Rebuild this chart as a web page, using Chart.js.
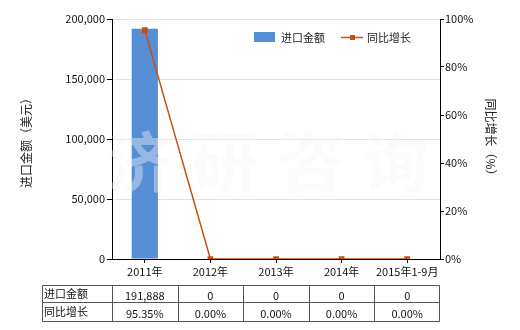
<!DOCTYPE html>
<html><head><meta charset="utf-8">
<script src="https://cdn.jsdelivr.net/npm/chart.js@4/dist/chart.umd.min.js"></script>
<style>html,body{margin:0;padding:0;background:#fff;}canvas{display:block;}</style>
</head><body>
<canvas id="c" width="520" height="330"></canvas>
<script>
const categories = ['2011年','2012年','2013年','2014年','2015年1-9月'];
const importValues = [191888, 0, 0, 0, 0];
const growthValues = [95.35, 0, 0, 0, 0];
const importLabels = ['191,888','0','0','0','0'];
const growthLabels = ['95.35%','0.00%','0.00%','0.00%','0.00%'];
const seriesNames = ['进口金额','同比增长'];
const leftTitle = '进口金额（美元）';
const rightTitle = '同比增长（%）';
const watermark = ['济','研','咨','询'];

const FONT = '"Noto Sans CJK SC", "Noto Sans", sans-serif';
const BAR = '#558ed5';
const LINE = '#c5500f';

const extras = {
  id: 'extras',
  afterDatasetDraw(chart, args) {
    if (args.index !== 0) return;
    const ctx = chart.ctx, a = chart.chartArea;
    ctx.save();
    ctx.fillStyle = 'rgba(246,246,246,0.4)';
    ctx.font = 'bold 66px ' + FONT;
    ctx.textAlign = 'center'; ctx.textBaseline = 'middle';
    const w = a.right - a.left;
    watermark.forEach((ch, i) => {
      ctx.fillText(ch, a.left + w * (0.06 + i * 0.26) + 8, 162);
    });
    ctx.restore();
  },
  afterDraw(chart) {
    const ctx = chart.ctx, x = chart.scales.x, a = chart.chartArea;
    ctx.save();
    // legend
    ctx.font = '11px ' + FONT;
    ctx.textBaseline = 'middle'; ctx.textAlign = 'left';
    ctx.fillStyle = BAR; ctx.fillRect(254, 32, 21, 10);
    ctx.fillStyle = '#222'; ctx.fillText(seriesNames[0], 281, 38);
    ctx.strokeStyle = LINE; ctx.lineWidth = 1.5;
    ctx.beginPath(); ctx.moveTo(341, 37.5); ctx.lineTo(363, 37.5); ctx.stroke();
    ctx.fillStyle = LINE; ctx.fillRect(350, 35, 5, 5);
    ctx.fillStyle = '#222'; ctx.fillText(seriesNames[1], 367, 38);
    // axis titles
    ctx.font = '12px ' + FONT; ctx.textAlign = 'center';
    ctx.save(); ctx.translate(26, 140); ctx.rotate(-Math.PI/2);
    ctx.fillText(leftTitle, 0, 0); ctx.restore();
    ctx.save(); ctx.translate(491, 140); ctx.rotate(Math.PI/2);
    ctx.fillText(rightTitle, 0, 0); ctx.restore();
    // table
    const half = (x.getPixelForValue(1) - x.getPixelForValue(0)) / 2;
    const top = 285.5, mid = 302.5, bot = 321.5, left = 42.5;
    ctx.strokeStyle = '#555'; ctx.lineWidth = 1;
    const right = Math.round(x.getPixelForValue(categories.length - 1) + half) - 0.5;
    ctx.beginPath();
    [top, mid, bot].forEach(y => { ctx.moveTo(left, y); ctx.lineTo(right, y); });
    ctx.moveTo(left, top); ctx.lineTo(left, bot);
    for (let i = 0; i < categories.length; i++) {
      const xb = Math.round(x.getPixelForValue(i) - half) + 0.5;
      ctx.moveTo(xb, top); ctx.lineTo(xb, bot);
    }
    ctx.moveTo(right, top); ctx.lineTo(right, bot);
    ctx.stroke();
    ctx.font = '11px ' + FONT; ctx.fillStyle = '#111';
    ctx.textAlign = 'left';
    ctx.fillText(seriesNames[0], 44, 294);
    ctx.fillText(seriesNames[1], 44, 312);
    ctx.textAlign = 'center';
    for (let i = 0; i < categories.length; i++) {
      const cx = x.getPixelForValue(i);
      ctx.fillText(importLabels[i], cx, 296);
      ctx.fillText(growthLabels[i], cx, 314);
    }
    ctx.restore();
  }
};

new Chart(document.getElementById('c'), {
  data: {
    labels: categories,
    datasets: [
      { type: 'line', label: seriesNames[1], data: growthValues, yAxisID: 'y1',
        borderColor: LINE, backgroundColor: LINE, borderWidth: 1.5,
        pointStyle: 'rect', pointRadius: 3, pointHoverRadius: 3, order: 0 },
      { type: 'bar', label: seriesNames[0], data: importValues, yAxisID: 'y',
        backgroundColor: BAR, barPercentage: 0.4, categoryPercentage: 1, order: 1 }
    ]
  },
  options: {
    responsive: false, animation: false,
    layout: { padding: { top: 19, left: 0, right: 0, bottom: 0 } },
    plugins: { legend: { display: false }, tooltip: { enabled: false } },
    scales: {
      x: {
        afterFit(s) { s.height = 71; },
        grid: { offset: false, drawOnChartArea: false, tickLength: 4, tickColor: '#000' },
        border: { color: '#000' },
        ticks: { color: '#111', font: { size: 11, family: FONT }, padding: 2, maxRotation: 0, autoSkip: false }
      },
      y: {
        position: 'left', min: 0, max: 200000,
        afterFit(s) { s.width = 112; },
        grid: { color: '#e3e3e3', tickLength: 5, tickColor: '#000' },
        border: { color: '#000' },
        ticks: { stepSize: 50000, color: '#111', font: { size: 11, family: FONT }, padding: 2,
          callback: v => v.toLocaleString('en-US') }
      },
      y1: {
        position: 'right', min: 0, max: 100,
        afterFit(s) { s.width = 80; },
        grid: { drawOnChartArea: false, tickLength: 4, tickColor: '#000' },
        border: { color: '#000' },
        ticks: { stepSize: 20, color: '#111', font: { size: 11, family: FONT }, padding: 1,
          callback: v => v + '%' }
      }
    }
  },
  plugins: [extras]
});
</script>
</body></html>
